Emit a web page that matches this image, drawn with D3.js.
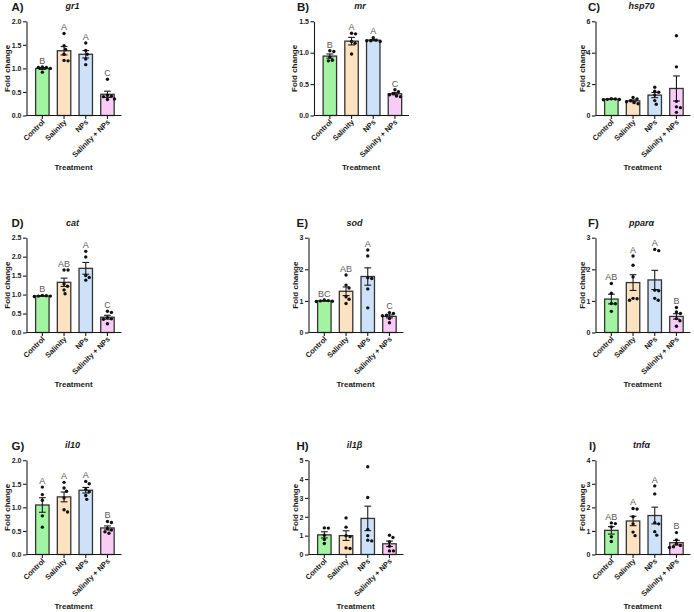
<!DOCTYPE html>
<html><head><meta charset="utf-8">
<script src="https://cdn.jsdelivr.net/npm/d3@7"></script>
<style>
body{margin:0;background:#fff}
svg{display:block;font-family:"Liberation Sans",Arial,sans-serif}
</style>
</head><body>
<svg id="chart" width="694" height="612"></svg>
<script>
// ---------- data ----------
const categories = ["Control", "Salinity", "NPs", "Salinity + NPs"];
const barColors = ["#a2f4a2", "#fde2c2", "#cde2f8", "#f8ccf4"];
const panelLabels = ["A)", "B)", "C)", "D)", "E)", "F)", "G)", "H)", "I)"];
const geneNames = ["gr1", "mr", "hsp70", "cat", "sod", "pparα", "il10", "il1β", "tnfα"];
const yMax = [2, 1.5, 6, 2.5, 3, 3, 2, 5, 4];
const yStep = [0.5, 0.5, 2, 0.5, 1, 1, 0.5, 1, 1];
const yDecimals = [1, 1, 0, 1, 0, 0, 1, 0, 0];

const gr1Values = [
  [1.03, 1.02, 1.00, 1.02, 0.92],
  [1.74, 1.48, 1.40, 1.30, 1.17, 1.16],
  [1.54, 1.38, 1.30, 1.20, 1.08],
  [0.77, 0.43, 0.41, 0.40, 0.34, 0.35]
];
const mrValues = [
  [1.03, 1.02, 0.93, 0.87, 0.88],
  [1.31, 1.30, 1.18, 1.15, 0.98],
  [1.24, 1.20, 1.19, 1.18, 1.19],
  [0.41, 0.38, 0.35, 0.31, 0.30, 0.33]
];
const hsp70Values = [
  [1.07, 1.03, 1.00, 1.05, 1.02],
  [1.15, 1.05, 0.95, 0.88, 0.82, 0.75],
  [1.80, 1.55, 1.48, 1.30, 0.95, 0.72],
  [5.08, 3.10, 0.90, 0.55, 0.50, 0.20]
];
const catValues = [
  [0.98, 0.97, 0.96, 0.95, 0.96],
  [1.65, 1.65, 1.28, 1.22, 1.12, 1.02],
  [2.14, 1.99, 1.50, 1.45, 1.38],
  [0.56, 0.53, 0.39, 0.36, 0.35, 0.23]
];
const sodValues = [
  [1.03, 1.00, 0.99, 1.01, 0.98],
  [1.82, 1.50, 1.41, 1.13, 1.05, 0.92],
  [2.61, 2.42, 1.73, 1.71, 1.38, 0.78],
  [0.63, 0.60, 0.55, 0.53, 0.44, 0.31]
];
const pparaValues = [
  [1.55, 1.24, 0.92, 0.91, 0.67],
  [2.42, 2.13, 1.76, 1.08, 1.07, 1.02],
  [2.59, 2.63, 1.34, 1.32, 1.08, 1.02],
  [0.79, 0.65, 0.60, 0.44, 0.37, 0.20]
];
const il10Values = [
  [1.43, 1.27, 1.15, 0.82, 0.58],
  [1.53, 1.41, 1.34, 1.20, 0.95, 0.90],
  [1.55, 1.50, 1.38, 1.33, 1.25, 1.17],
  [0.70, 0.68, 0.55, 0.52, 0.48, 0.45]
];
const il1bValues = [
  [1.41, 1.40, 1.02, 0.80, 0.58],
  [1.94, 1.45, 1.00, 0.95, 0.35, 0.32],
  [4.65, 3.02, 1.33, 1.00, 0.76, 0.72],
  [1.02, 0.90, 0.67, 0.44, 0.19, 0.19]
];
const tnfaValues = [
  [1.34, 1.31, 1.17, 0.75, 0.55],
  [1.95, 1.93, 1.60, 1.30, 0.95, 0.80],
  [2.91, 2.57, 1.35, 1.30, 0.97, 0.82],
  [0.93, 0.62, 0.45, 0.38, 0.33, 0.30]
];
const panelValues = [gr1Values, mrValues, hsp70Values, catValues, sodValues,
                     pparaValues, il10Values, il1bValues, tnfaValues];
const panelLetters = [
  ["B", "A", "A", "C"],
  ["B", "A", "A", "C"],
  null,
  ["B", "AB", "A", "C"],
  ["BC", "AB", "A", "C"],
  ["AB", "A", "A", "B"],
  ["A", "A", "A", "B"],
  null,
  ["AB", "A", "A", "B"]
];

// ---------- layout ----------
const axisX = [26.5, 314, 595.5, 26.5, 308.5, 595.5, 26.5, 308.5, 595.5];
const rowTop = [21.3, 237.7, 460.2];
const rowBase = [115.5, 332.5, 554.5];
const titleOffset = [15, 17, 7.5, 15, 12, 7.5, 15, 12, 6.5];
const ink = "#1a1a1a";

const svg = d3.select("#chart");

panelValues.forEach((groups, i) => {
  const row = Math.floor(i / 3);
  const x0 = axisX[i], top = rowTop[row], base = rowBase[row];
  const g = svg.append("g");

  const x = d3.scaleBand().domain(categories)
    .range([x0 + 5, x0 + 5 + 86.8]).paddingInner(0.38).paddingOuter(0.19);
  const y = d3.scaleLinear().domain([0, yMax[i]]).range([base, top]);
  const bw = x.bandwidth();

  const stats = groups.map((vals, k) => {
    const m = d3.mean(vals);
    const sem = d3.deviation(vals) / Math.sqrt(vals.length);
    return {cat: categories[k], vals, m, sem, k};
  });

  // bars
  g.selectAll("rect.bar").data(stats).join("rect")
    .attr("x", d => x(d.cat))
    .attr("y", d => y(d.m))
    .attr("width", bw)
    .attr("height", d => base - y(d.m))
    .attr("fill", d => barColors[d.k])
    .attr("stroke", "#333")
    .attr("stroke-width", 1.3);

  // error bars (mean ± SEM)
  stats.forEach(d => {
    const cx = x(d.cat) + bw / 2;
    const y1 = y(d.m + d.sem), y2 = y(d.m - d.sem);
    g.append("line").attr("x1", cx).attr("x2", cx).attr("y1", y1).attr("y2", y2)
      .attr("stroke", ink).attr("stroke-width", 1.1);
    [y1, y2].forEach(yy => g.append("line")
      .attr("x1", cx - 3.4).attr("x2", cx + 3.4).attr("y1", yy).attr("y2", yy)
      .attr("stroke", ink).attr("stroke-width", 1.1));
  });

  // dots (deterministic swarm layout)
  const r = 1.7, D = 2 * r + 0.5;
  stats.forEach(d => {
    const cx = x(d.cat) + bw / 2;
    const placed = [];
    const sorted = d.vals.slice().sort((a, b) => b - a);
    sorted.forEach(v => {
      const py = y(v);
      let off = 0, found = false;
      for (let s = 0; s < 60 && !found; s++) {
        const cands = s === 0 ? [0] : [s * 0.5, -s * 0.5];
        for (const c of cands) {
          if (placed.every(p => Math.hypot(p.x - c, p.y - py) >= D)) { off = c; found = true; break; }
        }
      }
      placed.push({x: off, y: py});
    });
    g.selectAll(null).data(placed).join("circle")
      .attr("cx", p => cx + p.x).attr("cy", p => p.y).attr("r", r).attr("fill", "#111");

    const letters = panelLetters[i];
    if (letters) {
      g.append("text").attr("x", cx).attr("y", y(d3.max(d.vals)) - 3.2)
        .attr("text-anchor", "middle").attr("font-size", 9)
        .attr("fill", "#5a5a5a").text(letters[d.k]);
    }
  });

  // y axis
  const ticks = d3.range(0, yMax[i] + 1e-9, yStep[i]);
  const yAxis = g.append("g").attr("transform", `translate(${x0},0)`)
    .call(d3.axisLeft(y).tickValues(ticks).tickSizeOuter(0).tickSizeInner(3.5).tickPadding(1.5)
      .tickFormat(d3.format(yDecimals[i] ? ".1f" : "d")));
  yAxis.select(".domain").attr("stroke", ink).attr("stroke-width", 1.1);
  yAxis.selectAll(".tick line").attr("stroke", ink).attr("stroke-width", 1.1);
  yAxis.selectAll(".tick text").attr("font-size", 7).attr("font-weight", "bold")
    .attr("font-family", "Liberation Sans, Arial, sans-serif").attr("fill", ink);

  // x axis
  g.append("line").attr("x1", x0).attr("x2", x0 + 95).attr("y1", base).attr("y2", base)
    .attr("stroke", ink).attr("stroke-width", 1.1);
  const xAxis = g.append("g").attr("transform", `translate(0,${base})`)
    .call(d3.axisBottom(x).tickSizeOuter(0).tickSizeInner(3.5).tickFormat(""));
  xAxis.select(".domain").remove();
  xAxis.selectAll(".tick line").attr("stroke", ink).attr("stroke-width", 1.1);
  categories.forEach(c => {
    const cx = x(c) + bw / 2;
    g.append("text")
      .attr("transform", `translate(${cx + 3},${base + 7}) rotate(-45)`)
      .attr("text-anchor", "end").attr("font-size", 7.5).attr("font-weight", "bold")
      .attr("fill", ink).text(c);
  });

  // axis titles
  const bb = yAxis.node().getBBox();
  g.append("text")
    .attr("transform", `translate(${x0 + bb.x - 2},${(top + base) / 2}) rotate(-90)`)
    .attr("text-anchor", "middle").attr("font-size", 8).attr("font-weight", "bold")
    .attr("fill", ink).text("Fold change");
  g.append("text").attr("x", x0 + 47).attr("y", base + 54)
    .attr("text-anchor", "middle").attr("font-size", 8).attr("font-weight", "bold")
    .attr("fill", ink).text("Treatment");

  // panel title & gene
  g.append("text").attr("x", x0 - titleOffset[i]).attr("y", top - 10.6)
    .attr("font-size", 11.5).attr("font-weight", "bold").attr("fill", ink).text(panelLabels[i]);
  g.append("text").attr("x", x0 + 46).attr("y", top - 12)
    .attr("text-anchor", "middle").attr("font-size", 9).attr("font-weight", "bold")
    .attr("font-style", "italic").attr("fill", ink).text(geneNames[i]);
});
</script>
</body></html>
